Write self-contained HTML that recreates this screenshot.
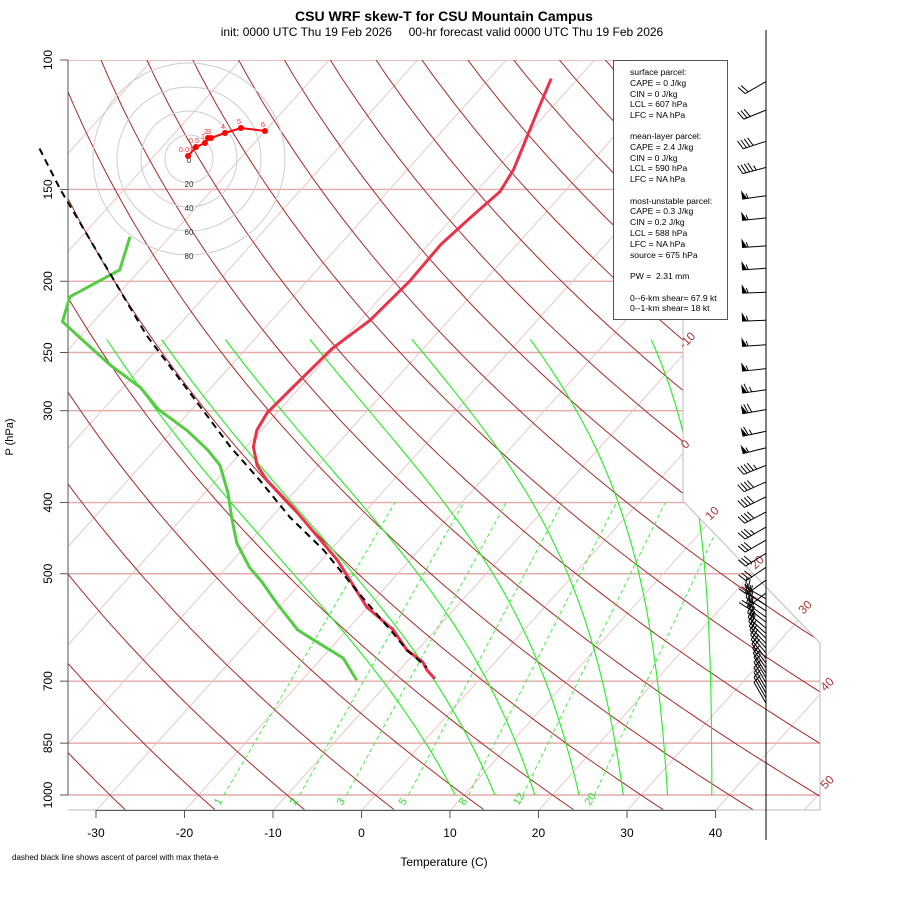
<!DOCTYPE html>
<html><head><meta charset="utf-8"><style>
html,body{margin:0;padding:0;background:#fff;}
svg{display:block;font-family:"Liberation Sans",sans-serif;}
</style></head><body>
<svg id="c" width="900" height="900" viewBox="0 0 900 900" xmlns="http://www.w3.org/2000/svg">
<defs><clipPath id="frame"><polygon points="68,60 683,60 683,501 820,643 820,810 68,810"/></clipPath></defs>
<rect width="900" height="900" fill="#fff"/>
<text x="444" y="21" text-anchor="middle" font-size="14" font-weight="bold">CSU WRF skew-T for CSU Mountain Campus</text>
<text x="442" y="36" text-anchor="middle" font-size="12" style="white-space:pre">init: 0000 UTC Thu 19 Feb 2026     00-hr forecast valid 0000 UTC Thu 19 Feb 2026</text>
<g id="bg" clip-path="url(#frame)"></g>
<polyline points="683,60 683,501 820,643 820,810 68,810" fill="none" stroke="#bbb" stroke-width="1"/>
<g id="labels"></g>
<g id="axes"></g>
<g id="hodo"></g>
<g id="prof"></g>
<g id="barbs"></g>
<line x1="766" y1="30" x2="766" y2="840" stroke="#000" stroke-width="1"/>
<g>
<rect x="613.5" y="60.5" width="114" height="259" fill="#fff" stroke="#555" stroke-width="1"/>
<g font-size="8.6" fill="#000">
<text x="630" y="75">surface parcel:</text>
<text x="630" y="86">CAPE = 0 J/kg</text>
<text x="630" y="97">CIN = 0 J/kg</text>
<text x="630" y="107">LCL = 607 hPa</text>
<text x="630" y="118">LFC = NA hPa</text>
<text x="630" y="139">mean-layer parcel:</text>
<text x="630" y="150">CAPE = 2.4 J/kg</text>
<text x="630" y="161">CIN = 0 J/kg</text>
<text x="630" y="171">LCL = 590 hPa</text>
<text x="630" y="182">LFC = NA hPa</text>
<text x="630" y="204">most-unstable parcel:</text>
<text x="630" y="214">CAPE = 0.3 J/kg</text>
<text x="630" y="225">CIN = 0.2 J/kg</text>
<text x="630" y="236">LCL = 588 hPa</text>
<text x="630" y="247">LFC = NA hPa</text>
<text x="630" y="258">source = 675 hPa</text>
<text x="630" y="279" style="white-space:pre">PW =  2.31 mm</text>
<text x="630" y="301">0--6-km shear= 67.9 kt</text>
<text x="630" y="311">0--1-km shear= 18 kt</text>
</g></g>
<text x="12" y="860" font-size="8">dashed black line shows ascent of parcel with max theta-e</text>
<text x="444" y="866" text-anchor="middle" font-size="12">Temperature (C)</text>
<text x="0" y="0" transform="translate(13,437) rotate(-90)" text-anchor="middle" font-size="11">P (hPa)</text>
</svg>
<script>
// ---- data ----
const pTicks=[100,150,200,250,300,400,500,700,850,1000];
const tTicks=[-30,-20,-10,0,10,20,30,40];
const isoLabelVals=[-10,0,10,20,30,40,50];
const mixVals=[1,2,3,5,8,12,20];
const moistStartT=[9,13.5,18,23,28,33,38];
const tempP=[106,115,128,141,151,164,178,200,226,247,279,302,319,336,356,373,406,461,479,555,596,635,659,676,695];
const tempT=[-53.0,-51.6,-49.7,-48.0,-47.3,-48.0,-48.6,-48.4,-48.9,-50.3,-50.8,-51.1,-50.5,-49.2,-46.9,-44.3,-38.6,-30.6,-28.2,-20.1,-14.8,-11.2,-8.2,-6.9,-5.1];
const dewP=[174,193,210,227,242,260,279,299,319,339,356,388,419,454,490,513,548,596,615,651,698];
const dewT=[-84.5,-82.3,-85.2,-83.5,-78.9,-73.7,-68.0,-63.7,-58.4,-54.1,-51.1,-47.4,-44.5,-41.3,-37.4,-34.5,-30.7,-25.6,-22.8,-17.6,-13.8];
const parcelP=[132,150,237,284,336,373,419,464,534,602,635,670];
const parcelT=[-103.7,-97.2,-72.6,-61.8,-51.8,-45.1,-37.9,-30.8,-22.1,-14.5,-11.2,-7.2];
const hodoLabels=["0.01","0.5","1","2","3","4","5","6"];
const hodoU=[-0.8,5.8,13.3,15.8,18.3,30,43.3,63.3];
const hodoV=[2.5,10,13.3,17.5,17.5,21.7,25.8,23.3];
const hodoRings=[20,40,60,80];
const barbP=[107,117,129,140,153,164,179,192,207,226,244,263,281,299,320,337,356,375,393,412,432,450,469,490,510,531,541,552,562,573,582,593,603,612,622,631,641,652,662,672,683,693,704,716,727,738,750];
const barbSpd=[20,30,40,45,55,55,55,55,55,55,55,55,65,70,65,55,45,40,40,40,35,30,30,30,30,25,25,25,25,25,25,25,20,20,20,20,20,20,20,15,15,15,15,10,10,10,10];
const barbDir=[240,248,252,255,262,264,266,266,268,268,266,264,262,260,258,256,248,246,244,242,240,240,238,236,234,232,300,302,304,306,308,310,312,314,316,318,320,322,324,326,328,330,330,330,330,330,330];
// ---- scales ----
const NS="http://www.w3.org/2000/svg";
function yP(p){return 795+319.2*Math.log(p/1000);}
function xT(T,p){return 362+8.85*T+0.9*(810-yP(p));}
function mk(tag,attrs,parent){const e=document.createElementNS(NS,tag);for(const k in attrs)e.setAttribute(k,attrs[k]);parent.appendChild(e);return e;}
const bg=document.getElementById('bg'),lab=document.getElementById('labels'),ax=document.getElementById('axes'),hodo=document.getElementById('hodo'),prof=document.getElementById('prof'),barbs=document.getElementById('barbs');
function pathFrom(ps,ts){return ps.map((p,i)=>(i?'L':'M')+xT(ts[i],p).toFixed(1)+','+yP(p).toFixed(1)).join(' ');}
// pressure lines
pTicks.forEach(p=>{const y=yP(p);
 const l=mk('line',{x1:68,x2:830,y1:y,y2:y,stroke:'#e2aaaa','stroke-width':1.4},bg);
 
 });
// isotherms
for(let T=-130;T<=60;T+=10){
 const l=mk('line',{x1:xT(T,1050),y1:yP(1050),x2:xT(T,95),y2:yP(95),stroke:'#ebc0c0','stroke-width':0.9},bg);
 
 }
// dry adiabats
for(let th=-40;th<=190;th+=10){const pts=[];
 for(let p=95;p<=1060;p+=10){const T=(th+273.15)*Math.pow(p/1000,0.2857)-273.15;pts.push(xT(T,p).toFixed(1)+','+yP(p).toFixed(1));}
 const l=mk('polyline',{points:pts.join(' '),fill:'none',stroke:'#a52a2a','stroke-width':1},bg);
 
 }
// mixing ratio lines
mixVals.forEach(w=>{function td(p){const e=w*p/(622+w);const L=Math.log(e/6.112);return 243.5*L/(17.67-L);}
 const l=mk('line',{x1:xT(td(1000),1000),y1:yP(1000),x2:xT(td(400),400),y2:yP(400),stroke:'#33ee33','stroke-width':0.9,'stroke-dasharray':'4,3'},bg);
 
 
 const x=xT(td(1000),1000)-4,y=806;
 const t=mk('text',{x:x,y:y,'font-size':11,fill:'#33dd33',transform:'rotate(-60 '+x+' '+y+')'},lab);t.textContent=w;
 
 });
// moist adiabats (approx. constant theta-e)
const KL=0.72*2.5e6;
function rsat(T,p){const es=6.112*Math.exp(17.67*(T-273.15)/(T-29.65));return 0.622*es/(p-es);}
function the(T,p){return T*Math.pow(1000/p,0.2857)*Math.exp(KL*rsat(T,p)/(1005*T));}
moistStartT.forEach(T0=>{const te=the(T0+273.15,1000);const pts=[];
 for(let p=1000;p>=240;p-=10){let lo=150,hi=330;
  for(let k=0;k<40;k++){const m=(lo+hi)/2;if(the(m,p)>te)hi=m;else lo=m;}
  pts.push(xT((lo+hi)/2-273.15,p).toFixed(1)+','+yP(p).toFixed(1));}
 const l=mk('polyline',{points:pts.join(' '),fill:'none',stroke:'#22ee22','stroke-width':1.1},bg);
 
 });
// isotherm labels
const isoPos=[[690,343],[688,447],[715,516],[760,565],[808,610],[830,687],[830,785]];
isoLabelVals.forEach((v,i)=>{const [x,y]=isoPos[i];
 const t=mk('text',{x:x,y:y,'font-size':12,fill:'#b03030','text-anchor':'middle',transform:'rotate(-45 '+x+' '+y+')'},lab);t.textContent=v;
 
 });
// axes
mk('line',{x1:68,x2:68,y1:60,y2:795,stroke:'#555'},ax);
pTicks.forEach(p=>{const y=yP(p);mk('line',{x1:60,x2:68,y1:y,y2:y,stroke:'#555'},ax);
 const t=mk('text',{x:0,y:0,'font-size':12,'text-anchor':'middle',transform:'translate(52,'+y+') rotate(-90)'},ax);t.textContent=p;
 
 });
mk('line',{x1:xT(-30,1050),x2:xT(40,1050),y1:810.5,y2:810.5,stroke:'#555'},ax);
tTicks.forEach(T=>{const x=xT(T,1050);mk('line',{x1:x,x2:x,y1:810,y2:818,stroke:'#555'},ax);
 const t=mk('text',{x:x,y:837,'font-size':12,'text-anchor':'middle'},ax);t.textContent=T;
 
 });
// hodograph
const hx=189,hy=159,hs=1.2;
hodoRings.forEach(r=>{mk('circle',{cx:hx,cy:hy,r:r*hs,fill:'none',stroke:'#ccc','stroke-width':1},hodo);
 const t=mk('text',{x:hx,y:hy+r*hs+4,'font-size':8,'text-anchor':'middle',fill:'#333'},hodo);t.textContent=r;
 
 });
mk('text',{x:hx,y:hy+4,'font-size':8,'text-anchor':'middle',fill:'#333'},hodo).textContent='0';
const hp=hodoU.map((u,i)=>(hx+u*hs).toFixed(1)+','+(hy-hodoV[i]*hs).toFixed(1));
mk('polyline',{points:hp.join(' '),fill:'none',stroke:'#f00','stroke-width':2},hodo);
hodoU.forEach((u,i)=>{const x=hx+u*hs,y=hy-hodoV[i]*hs;
 const c=mk('circle',{cx:x,cy:y,r:3,fill:'#f00'},hodo);
 
 
 const t=mk('text',{x:x-2,y:y-4,'font-size':7.5,'text-anchor':'middle',fill:'#f33'},hodo);t.textContent=hodoLabels[i];});
// profiles
const dp=mk('path',{d:pathFrom(dewP,dewT),fill:'none',stroke:'#55cc44','stroke-width':3,'stroke-linejoin':'round'},prof);


const tp=mk('path',{d:pathFrom(tempP,tempT),fill:'none',stroke:'#e8334a','stroke-width':3,'stroke-linejoin':'round'},prof);


const pp=mk('path',{d:pathFrom(parcelP,parcelT),fill:'none',stroke:'#000','stroke-width':2,'stroke-dasharray':'7,5'},prof);


// barbs
barbP.forEach((p,i)=>{const bx=766,by=yP(p),d=barbDir[i]*Math.PI/180;
 const ux=Math.sin(d),uy=-Math.cos(d);const px=-uy,py=ux;const Ls=24;
 const tx=bx+ux*Ls,ty=by+uy*Ls;
 const g=mk('g',{},barbs);
 
 
 mk('line',{x1:bx,y1:by,x2:tx,y2:ty,stroke:'#000','stroke-width':1},g);
 let s=Math.round(barbSpd[i]/5)*5,pos=0;
 while(s>=50){const ax1=tx-ux*pos,ay1=ty-uy*pos,ax2=tx-ux*(pos+5),ay2=ty-uy*(pos+5);
  mk('polygon',{points:ax1+','+ay1+' '+ax2+','+ay2+' '+(ax1+px*9)+','+(ay1+py*9),fill:'#000'},g);pos+=6;s-=50;}
 while(s>=10){const x=tx-ux*pos,y=ty-uy*pos;mk('line',{x1:x,y1:y,x2:x+px*9+ux*3,y2:y+py*9+uy*3,stroke:'#000'},g);pos+=3.5;s-=10;}
 if(s>=5){if(pos==0)pos=3.5;const x=tx-ux*pos,y=ty-uy*pos;mk('line',{x1:x,y1:y,x2:x+px*5+ux*1.5,y2:y+py*5+uy*1.5,stroke:'#000'},g);}
});
</script>
</body></html>
